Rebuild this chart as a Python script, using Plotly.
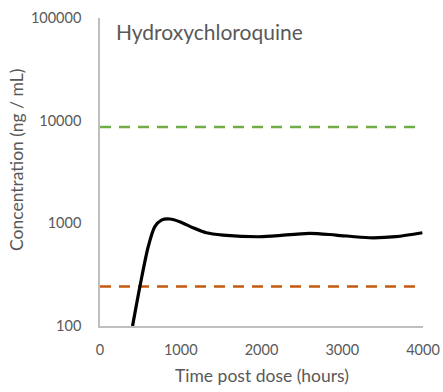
import plotly.graph_objects as go

time_h = [403, 494, 597, 679, 761, 864, 988, 1152, 1317, 1523, 2016, 2593, 2922, 3333, 3663, 3992]
conc = [100, 242, 591, 927, 1076, 1102, 1038, 906, 809, 769, 741, 800, 769, 724, 741, 809]
upper_t = [0, 4000]
upper_c = [8700, 8700]
lower_t = [0, 4000]
lower_c = [242, 242]
x_ticks = [0, 1000, 2000, 3000, 4000]
y_ticks = [100, 1000, 10000, 100000]

W, H = 443, 392
L, R, T, B = 100, 20, 18, 66
pw, ph = W - L - R, H - T - B

fig = go.Figure()
fig.add_trace(go.Scatter(x=upper_t, y=upper_c, mode="lines",
                         line=dict(color="#70ad47", width=2.5, dash="11px,8px"), hoverinfo="skip"))
fig.add_trace(go.Scatter(x=lower_t, y=lower_c, mode="lines",
                         line=dict(color="#c55a11", width=2.5, dash="11px,8px"), hoverinfo="skip"))
fig.add_trace(go.Scatter(x=time_h, y=conc, mode="lines",
                         line=dict(color="black", width=3.2, shape="spline", smoothing=0.8)))

font = "Lato, Open Sans, sans-serif"
fig.update_layout(
    width=W, height=H,
    margin=dict(l=L, r=R, t=T, b=B),
    paper_bgcolor="white", plot_bgcolor="white",
    showlegend=False,
    font=dict(family=font, color="#595959", size=14.5),
    annotations=[
        dict(text="Hydroxychloroquine", x=0, y=1, xref="paper", yref="paper",
             xanchor="left", yanchor="top", xshift=14, yshift=1, showarrow=False,
             font=dict(size=21, color="#595959", family=font)),
        dict(text="Time post dose (hours)", x=0.5, y=(H - B - 375) / ph, xref="paper", yref="paper",
             xanchor="center", yanchor="middle", showarrow=False,
             font=dict(size=17.5, color="#595959", family=font)),
        dict(text="Concentration (ng / mL)", x=(16 - L) / pw, y=(H - B - 160) / ph,
             xref="paper", yref="paper",
             xanchor="center", yanchor="middle", textangle=-90, showarrow=False,
             font=dict(size=17.5, color="#595959", family=font)),
    ],
)

fig.update_xaxes(range=[0, 4000], tickvals=x_ticks, ticktext=[str(v) for v in x_ticks],
                 showgrid=False, zeroline=False, showline=True, linecolor="#bfbfbf", linewidth=1.5,
                 ticks="", ticklabelstandoff=10, automargin=False)
fig.update_yaxes(type="log", range=[2, 5], tickvals=y_ticks, ticktext=[str(v) for v in y_ticks],
                 showgrid=False, zeroline=False, showline=True, linecolor="#bfbfbf", linewidth=1.5,
                 ticks="", ticklabelstandoff=14, automargin=False)
fig.write_html("out.html")
